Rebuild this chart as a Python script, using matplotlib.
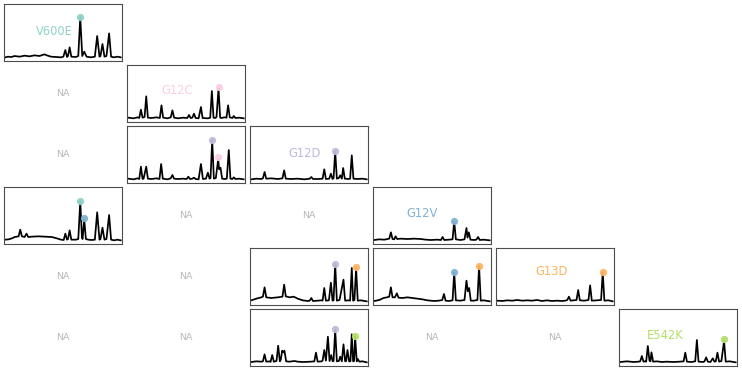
import matplotlib
matplotlib.use("Agg")
import matplotlib.pyplot as plt

# ---------------- data ----------------
mutations = ["V600E", "G12C", "G12D", "G12V", "G13D", "E542K"]
mut_colors = ["#8DD3C7", "#FCCDE5", "#BEBADA", "#80B1D3", "#FDB462", "#B3DE69"]

# panel (0,0) V600E
v600e_x = [0, 8, 18, 28, 43, 58, 73, 88, 103, 118, 128, 138, 153, 168, 175, 181, 186, 189, 194, 199, 213, 220, 226, 232, 238, 245, 258, 270, 277, 284, 287, 293, 299, 305, 313, 319, 328, 338, 348]
v600e_y = [0, 2, 1, 4, 2, 5, 3, 6, 4, 9, 5, 2, 1, 0, 2, 22, 1, 4, 30, 2, 1, 4, 120, 4, 17, 2, 0, 2, 64, 2, 4, 40, 2, 4, 72, 2, 0, 2, 0]
v600e_dots = [(226, 120, 0)]

# panel (1,1) G12C
g12c_x = [0, 15, 28, 33, 38, 43, 49, 54, 59, 70, 85, 95, 100, 105, 118, 128, 133, 138, 150, 165, 178, 183, 188, 193, 198, 203, 212, 219, 224, 240, 247, 252, 257, 262, 266, 272, 277, 280, 290, 296, 301, 306, 314, 318, 323, 335, 348]
g12c_y = [2, 0, 3, 1, 26, 2, 4, 66, 2, 1, 3, 1, 39, 2, 0, 3, 24, 2, 0, 2, 1, 10, 1, 2, 14, 1, 0, 34, 1, 0, 2, 82, 2, 1, 4, 90, 2, 1, 3, 2, 39, 3, 1, 7, 1, 2, 0]
g12c_dots = [(272, 95, 1)]

# panel (2,1) G12D vs G12C
g12d_g12c_x = [0, 15, 28, 33, 38, 43, 46, 54, 59, 70, 85, 94, 99, 104, 118, 128, 133, 138, 150, 165, 176, 181, 186, 193, 198, 203, 212, 219, 225, 234, 240, 245, 248, 253, 258, 264, 271, 274, 278, 283, 290, 297, 303, 308, 314, 318, 323, 335, 348]
g12d_g12c_y = [2, 0, 3, 1, 38, 1, 2, 38, 2, 1, 3, 1, 46, 2, 0, 3, 13, 2, 1, 2, 1, 8, 1, 2, 5, 1, 0, 46, 1, 2, 20, 2, 4, 118, 2, 4, 60, 30, 35, 2, 1, 2, 88, 2, 1, 6, 1, 2, 0]
g12d_g12c_dots = [(253, 118, 2), (271, 66, 1)]

# panel (2,2) G12D
g12d_x = [0, 15, 30, 35, 40, 45, 60, 80, 94, 99, 104, 120, 140, 160, 176, 181, 186, 200, 215, 220, 225, 235, 240, 245, 248, 253, 258, 264, 268, 273, 277, 282, 293, 298, 303, 308, 320, 335, 348]
g12d_y = [0, 2, 1, 3, 22, 2, 3, 1, 3, 27, 2, 1, 2, 0, 2, 7, 1, 1, 2, 30, 1, 2, 17, 1, 3, 84, 2, 4, 12, 2, 34, 2, 1, 2, 72, 2, 1, 2, 0]
g12d_dots = [(253, 84, 2)]

# panel (3,0) G12V vs V600E
g12v_v600e_x = [0, 10, 20, 28, 40, 45, 50, 58, 64, 69, 80, 100, 120, 140, 155, 168, 176, 181, 186, 189, 194, 199, 213, 220, 226, 231, 233, 238, 243, 250, 260, 270, 277, 284, 287, 293, 299, 305, 313, 319, 328, 338, 348]
g12v_v600e_y = [2, 3, 6, 10, 12, 32, 12, 10, 20, 10, 11, 12, 11, 10, 6, 2, 1, 20, 2, 4, 30, 2, 2, 4, 117, 10, 4, 62, 4, 2, 1, 2, 84, 2, 4, 38, 2, 4, 76, 2, 0, 2, 0]
g12v_v600e_dots = [(226, 117, 0), (238, 66, 3)]

# panel (3,3) G12V
g12v_x = [0, 15, 30, 40, 45, 50, 55, 60, 64, 69, 80, 100, 120, 140, 155, 170, 190, 201, 206, 211, 225, 236, 241, 246, 260, 272, 278, 281, 285, 290, 300, 308, 313, 318, 330, 348]
g12v_y = [1, 3, 2, 4, 5, 24, 4, 3, 12, 4, 5, 4, 5, 4, 2, 1, 2, 1, 10, 1, 2, 3, 57, 3, 1, 3, 37, 8, 24, 2, 1, 2, 10, 1, 2, 0]
g12v_dots = [(241, 57, 3)]

# panel (4,2) G13D vs G12D
g13d_g12d_x = [0, 15, 30, 35, 40, 45, 60, 80, 94, 99, 104, 115, 128, 140, 155, 170, 176, 181, 186, 200, 212, 215, 220, 225, 234, 240, 245, 248, 253, 258, 266, 278, 283, 292, 298, 303, 307, 311, 316, 321, 330, 348]
g13d_g12d_y = [3, 8, 12, 14, 42, 12, 10, 12, 14, 50, 15, 12, 14, 8, 3, 1, 2, 10, 1, 2, 3, 2, 40, 2, 3, 56, 2, 3, 112, 2, 4, 65, 2, 3, 2, 100, 2, 4, 100, 2, 3, 0]
g13d_g12d_dots = [(253, 112, 2), (316, 102, 4)]

# panel (4,3) G13D vs G12V
g13d_g12v_x = [0, 15, 28, 38, 45, 50, 55, 62, 68, 73, 85, 100, 115, 130, 145, 160, 180, 195, 205, 210, 215, 225, 236, 241, 246, 260, 272, 278, 282, 286, 291, 300, 311, 316, 321, 330, 348]
g13d_g12v_y = [1, 4, 10, 12, 14, 42, 12, 12, 24, 11, 10, 12, 10, 8, 6, 3, 1, 2, 4, 22, 2, 1, 3, 87, 3, 2, 4, 62, 30, 40, 2, 2, 4, 105, 2, 3, 0]
g13d_g12v_dots = [(241, 87, 3), (316, 105, 4)]

# panel (4,4) G13D
g13d_x = [0, 15, 30, 45, 60, 75, 90, 105, 120, 135, 150, 165, 180, 195, 205, 211, 216, 221, 230, 239, 244, 249, 262, 275, 280, 285, 300, 313, 318, 323, 335, 348]
g13d_y = [2, 1, 3, 2, 4, 2, 3, 2, 4, 1, 3, 1, 2, 1, 2, 4, 14, 2, 3, 4, 34, 3, 2, 4, 48, 2, 3, 4, 87, 2, 3, 0]
g13d_dots = [(318, 87, 4)]

# panel (5,2) E542K vs G12D
e542k_g12d_x = [0, 15, 30, 35, 40, 45, 55, 58, 63, 68, 76, 81, 86, 89, 93, 97, 100, 105, 115, 130, 140, 155, 180, 190, 195, 200, 212, 215, 220, 225, 231, 236, 241, 245, 248, 253, 258, 264, 268, 273, 278, 283, 286, 290, 295, 299, 303, 307, 310, 313, 318, 321, 326, 335, 348]
e542k_g12d_y = [1, 3, 2, 3, 24, 2, 3, 1, 22, 2, 4, 50, 3, 8, 35, 30, 35, 3, 2, 4, 2, 1, 2, 3, 29, 2, 3, 5, 37, 5, 77, 4, 22, 3, 4, 98, 3, 4, 17, 3, 54, 3, 4, 37, 3, 3, 84, 3, 4, 78, 3, 10, 2, 3, 0]
e542k_g12d_dots = [(253, 100, 2), (313, 78, 5)]

# panel (5,5) E542K
e542k_x = [0, 20, 40, 55, 60, 65, 70, 76, 78, 83, 88, 91, 94, 99, 110, 125, 140, 160, 180, 191, 196, 201, 215, 226, 231, 236, 250, 254, 259, 264, 272, 279, 284, 288, 293, 298, 305, 313, 318, 330, 348]
e542k_y = [1, 3, 1, 2, 3, 19, 2, 3, 2, 49, 5, 3, 30, 2, 3, 1, 2, 1, 2, 3, 29, 2, 1, 3, 67, 2, 1, 3, 15, 2, 1, 12, 2, 3, 29, 2, 4, 64, 2, 3, 0]
e542k_dots = [(313, 70, 5)]

panels = {
    (0, 0): (v600e_x, v600e_y, v600e_dots),
    (1, 1): (g12c_x, g12c_y, g12c_dots),
    (2, 1): (g12d_g12c_x, g12d_g12c_y, g12d_g12c_dots),
    (2, 2): (g12d_x, g12d_y, g12d_dots),
    (3, 0): (g12v_v600e_x, g12v_v600e_y, g12v_v600e_dots),
    (3, 3): (g12v_x, g12v_y, g12v_dots),
    (4, 2): (g13d_g12d_x, g13d_g12d_y, g13d_g12d_dots),
    (4, 3): (g13d_g12v_x, g13d_g12v_y, g13d_g12v_dots),
    (4, 4): (g13d_x, g13d_y, g13d_dots),
    (5, 2): (e542k_g12d_x, e542k_g12d_y, e542k_g12d_dots),
    (5, 5): (e542k_x, e542k_y, e542k_dots),
}

# label positions on diagonal panels (x, y in panel units)
label_pos = {0: (148, 77), 1: (148, 84), 2: (160, 77), 3: (143, 80), 4: (163, 89), 5: (136, 79)}

# ---------------- figure ----------------
W, H = 742, 369
fig = plt.figure(figsize=(W / 100, H / 100), dpi=100)
gs = fig.add_gridspec(6, 6, left=4 / W, right=737 / W, top=1 - 4 / H, bottom=1 - 366 / H,
                      wspace=0.042, hspace=0.07)

n = len(mutations)
for r in range(n):
    for c in range(r + 1):
        ax = fig.add_subplot(gs[r, c])
        ax.set_xticks([])
        ax.set_yticks([])
        ax.set_xlim(-4, 352)
        ax.set_ylim(-11, 160)
        if (r, c) in panels:
            xs, ys, dots = panels[(r, c)]
            ax.plot(xs, ys, color="black", lw=1.25, zorder=2)
            for dx, dy, ci in dots:
                ax.plot(dx, dy, "o", ms=5.2, color=mut_colors[ci], mec="none", zorder=3, alpha=0.95)
            for sp in ax.spines.values():
                sp.set_color("#4d4d4d")
                sp.set_linewidth(0.8)
            if r == c:
                lx, ly = label_pos[r]
                ax.text(lx, ly, mutations[r], color=mut_colors[r], fontsize=8.3,
                        ha="center", va="center", zorder=1)
        else:
            for sp in ax.spines.values():
                sp.set_visible(False)
            ax.text(0.5, 0.5, "NA", color="#b8b8b8", fontsize=6.8,
                    ha="center", va="center", transform=ax.transAxes)

fig.savefig("out.png", dpi=100)
